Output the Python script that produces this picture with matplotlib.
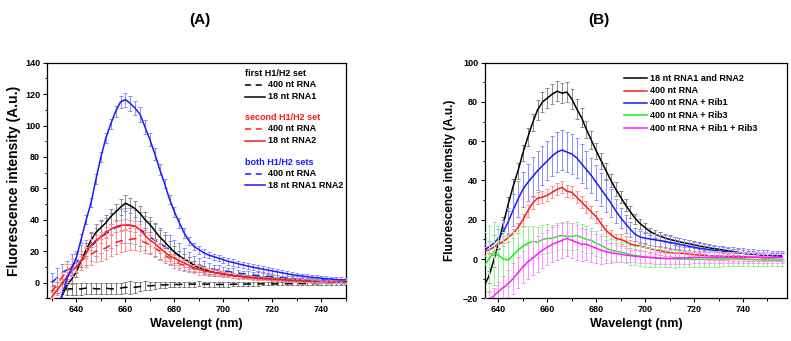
import numpy as np
import matplotlib
matplotlib.use("Agg")
import matplotlib.pyplot as plt
from matplotlib.ticker import MultipleLocator

plt.rcParams['font.family'] = ['Liberation Sans', 'DejaVu Sans']
plt.rcParams['font.weight'] = 'bold'

# ---------------- Panel A data ----------------
wl_a = np.arange(630, 751, 2)

a_black_dash = [-2, -3, -3.5, -4, -4, -4, -4, -3.5, -3.5, -4, -4, -3.5, -4, -4, -3.5, -3, -3, -3, -2.5, -2, -2,
                -1.8, -1.5, -1.5, -1.3, -1.2, -1.2, -1, -1, -1, -0.8, -1, -1, -1.2, -1.2, -1.2, -1.2, -1, -1, -1,
                -0.9, -0.9, -0.9, -0.8, -0.8, -0.8, -0.8, -0.7, -0.7, -0.7, -0.7, -0.6, -0.6, -0.6, -0.6, -0.6,
                -0.5, -0.5, -0.5, -0.5, -0.5]
a_black_dash_err = [3, 3.5, 4, 4, 4, 4, 4, 3.5, 3.5, 3.5, 3.5, 3.5, 3.5, 3.5, 3.5, 3.5, 4, 3.5, 3, 3, 2.5,
                    2, 2, 1.8, 1.8, 1.5, 1.5, 1.5, 1.5, 1.5, 1.5, 1.5, 1.5, 1.5, 1.5, 1.5, 1.5, 1.2, 1.2, 1.2,
                    1, 1, 1, 1, 1, 1, 1, 1, 1, 1, 1, 1, 1, 1, 1, 1, 1, 1, 1, 1, 1]

a_black = [-20, -15, -9, -2, 2, 7, 14, 21, 27, 32, 35, 38, 42, 45, 48, 50.5, 49, 47, 44, 40, 37, 33, 29, 26,
           22.5, 19.5, 17, 15, 13, 11, 9.5, 8.5, 7.5, 6.5, 6, 5.5, 5, 4.5, 4.2, 4, 3.7, 3.4, 3.2, 3, 2.8, 2.6,
           2.4, 2.2, 2, 1.8, 1.7, 1.5, 1.3, 1.2, 1, 0.9, 0.8, 0.7, 0.6, 0.5, 0.4]
a_black_err = [3, 3, 3, 3, 3, 3.5, 4, 4, 4.5, 5, 5, 5, 5, 5, 5, 5, 5, 5, 5, 5, 5, 5, 4.5, 4, 4, 3.5, 3, 3, 3,
               2.5, 2.5, 2, 2, 2, 1.5, 1.5, 1.5, 1.5, 1.2, 1.2, 1, 1, 1, 1, 1, 1, 1, 1, 1, 1, 1, 1, 1, 1, 1, 1,
               1, 1, 1, 1, 1]

a_red_dash = [-6, -1, 3, 7, 10, 12, 14, 16, 18, 20, 21, 22, 24, 25.5, 26.5, 27, 27.5, 28, 27, 25.5, 24, 22, 20,
              17.5, 15.5, 13.5, 12, 11, 10, 9, 8, 7.5, 7, 6.5, 6, 5.5, 5, 4.5, 4, 3.7, 3.4, 3.1, 2.9, 2.7, 2.5,
              2.3, 2.1, 1.9, 1.7, 1.5, 1.4, 1.3, 1.2, 1.1, 1, 0.9, 0.8, 0.7, 0.7, 0.6, 0.6]
a_red_dash_err = [4, 4, 4, 5, 5, 6, 6, 6, 7, 7, 7, 7, 7, 7, 7, 7, 7, 7, 7, 6.5, 6, 6, 5.5, 5, 4.5, 4, 4, 3.5,
                  3.5, 3, 3, 2.5, 2.5, 2, 2, 2, 1.5, 1.5, 1.5, 1.5, 1.2, 1.2, 1.2, 1, 1, 1, 1, 1, 1, 1, 1, 1, 1,
                  1, 1, 1, 1, 1, 1, 1, 1]

a_red = [-9, -5, -1, 3.5, 7, 10, 14, 19, 24, 27, 29, 32, 34, 35.5, 36.5, 36.7, 36.5, 36, 33.5, 30, 27, 25, 22,
         19.5, 17, 15.5, 14, 12.5, 11, 9.5, 8.5, 7.5, 7, 6.5, 6, 5.5, 5, 4.5, 4, 3.7, 3.4, 3.1, 2.8, 2.6, 2.4,
         2.2, 2, 1.8, 1.6, 1.4, 1.3, 1.2, 1.1, 1, 0.9, 0.8, 0.7, 0.6, 0.5, 0.5, 0.4]
a_red_err = [3, 3, 3, 3, 3, 3, 3, 3.5, 3.5, 3.5, 3.5, 3.5, 3.5, 3.5, 3.5, 3.5, 3.5, 3.5, 3.5, 3.5, 3.5, 3, 3, 3,
             3, 3, 2.5, 2.5, 2.5, 2, 2, 2, 2, 1.5, 1.5, 1.5, 1.5, 1.5, 1.2, 1.2, 1, 1, 1, 1, 1, 1, 1, 1, 1, 1,
             1, 1, 1, 1, 1, 1, 1, 1, 1, 1, 1]

a_blue_dash = [0, 3, 6, 8, 11, 13, 16, 19, 23, 26, 29, 31, 33, 35, 36, 36.5, 36.5, 35.5, 34, 31.5, 29, 27, 25,
               23, 21, 19, 17, 15, 13.5, 12, 11, 10, 9, 8.5, 8, 7.5, 7, 6.5, 6, 5.6, 5.2, 4.8, 4.5, 4.2, 3.9,
               3.6, 3.3, 3, 2.8, 2.6, 2.4, 2.2, 2, 1.9, 1.8, 1.7, 1.6, 1.5, 1.4, 1.3, 1.2]
a_blue_dash_err = [6, 6, 6, 6, 7, 7, 8, 8, 9, 9, 10, 10, 11, 11, 11, 11, 11, 11, 11, 11, 10, 10, 10, 9, 9, 8,
                   8, 7, 6, 5, 4.5, 4, 3.5, 3, 3, 2.5, 2.5, 2.5, 2, 2, 2, 2, 2, 2, 1.5, 1.5, 1.5, 1.5, 1.5, 1.5,
                   1.5, 1.5, 1.2, 1.2, 1.2, 1.2, 1.2, 1.2, 1.2, 1.2, 1.2]

a_blue = [-25, -18, -9, 2, 9, 16, 28, 40, 51, 66, 80, 92, 101, 109, 115, 116.5, 114, 111, 107, 99, 91, 82, 72,
          63, 53, 45, 38, 31.5, 26.5, 23, 21, 19, 17.5, 16.5, 15.5, 14.5, 13.5, 12.8, 12, 11.2, 10.5, 9.8, 9.2,
          8.6, 8, 7.4, 6.8, 6.2, 5.6, 5, 4.6, 4.2, 3.8, 3.4, 3.1, 2.8, 2.5, 2.2, 2, 1.8, 1.7]
a_blue_err = [3, 3, 3, 3, 3, 3, 3, 3, 3, 3, 3, 3, 3, 3.5, 4, 4.5, 4.5, 4.5, 4.5, 4.5, 4, 4, 3.5, 3, 3, 3, 3, 3,
              2.5, 2.5, 2.5, 2.5, 2, 2, 2, 2, 2, 2, 2, 2, 2, 2, 2, 2, 2, 2, 2, 2, 1.5, 1.5, 1.5, 1.5, 1.5, 1.5,
              1.5, 1.5, 1.5, 1.5, 1.5, 1.5, 1.5]

# ---------------- Panel B data ----------------
wl_b = np.arange(634, 757, 2)

b_black = [-14, -9, -1, 8, 18, 28, 37, 45, 54, 62, 69.5, 76, 80, 82, 84, 85.5, 84.5, 85, 81.5, 76.5, 72, 66,
           60.5, 55, 50, 45, 40, 35.5, 31.5, 27.5, 24, 20.5, 18, 16, 14, 12.7, 11.7, 10.8, 10, 9.4, 8.8, 8.2,
           7.8, 7.2, 6.7, 6.2, 5.8, 5.3, 5, 4.6, 4.2, 3.8, 3.4, 3, 2.7, 2.5, 2.3, 2.1, 2, 1.8, 1.7, 1.5]
b_black_err = [3, 3, 3, 3, 3.5, 3.5, 4, 4, 4, 4.5, 4.5, 5, 5, 5, 5, 5, 5, 5, 5, 5, 5, 4.5, 4.5, 4, 4, 4, 3.5,
               3.5, 3, 3, 3, 2.5, 2.5, 2.5, 2, 2, 2, 2, 2, 2, 2, 2, 1.8, 1.8, 1.8, 1.8, 1.8, 1.5, 1.5, 1.5, 1.5,
               1.5, 1.5, 1.5, 1.5, 1.5, 1.5, 1.5, 1.5, 1.5, 1.5, 1.5]

b_red = [4, 4.5, 6, 7.5, 9, 11, 13, 16, 20, 24.5, 28.5, 31, 31.5, 32.5, 34, 35.5, 36.5, 34.5, 34, 31.5, 29,
         26.5, 24, 21.5, 18, 14.5, 12.5, 10.5, 10, 9, 7.5, 7, 6.5, 6, 5.3, 4.7, 4.2, 3.6, 3.3, 3.1, 3, 2.8,
         2.5, 2.2, 2, 1.9, 1.7, 1.6, 1.5, 1.4, 1.3, 1.2, 1.1, 1.1, 1, 1, 0.9, 0.9, 0.8, 0.8, 0.8, 0.8]
b_red_err = [2, 2, 2, 2, 2.5, 2.5, 2.5, 2.5, 3, 3, 3, 3, 3, 3, 3, 3, 3, 3, 3, 3, 3, 3, 3, 3, 3, 3, 2.5, 2.5,
             2.5, 2.5, 2, 2, 2, 2, 2, 2, 2, 2, 2, 2, 2, 2, 2, 2, 2, 2, 2, 2, 2, 2, 2, 2, 2, 2, 2, 2, 2, 2, 2,
             2, 2, 2]

b_blue = [4.5, 6, 8, 10.5, 14, 19, 25, 30.5, 35.5, 39, 42, 45, 47.5, 50, 52.5, 54.5, 55.5, 54.5, 53.5, 51.5,
          48.5, 45.5, 42.5, 39, 35.5, 32, 28.5, 24.5, 21, 18, 15, 12.5, 11.2, 10.6, 10.2, 9.8, 9.4, 9, 8.5, 8,
          7.5, 7, 6.5, 6, 5.5, 5.2, 4.8, 4.5, 4.1, 3.9, 3.7, 3.4, 3.1, 2.9, 2.6, 2.5, 2.3, 2.1, 2, 1.8, 1.7,
          1.5]
b_blue_err = [3, 3, 4, 5, 6, 7, 8, 9, 9, 9.5, 10, 10, 10, 10, 10, 10, 10, 10, 10, 10, 10, 9.5, 9, 9, 8.5, 8,
              7, 6, 5, 4.5, 4, 3.5, 3, 3, 3, 3, 3, 3, 3, 3, 3, 3, 3, 2.5, 2.5, 2.5, 2.5, 2.5, 2.5, 2.5, 2.5,
              2.5, 2.5, 2.5, 2.5, 2.5, 2.5, 2.5, 2.5, 2.5, 2.5, 2.5]

b_green = [-4, 0, 3, 2, 0, -0.5, 2, 4.5, 6.5, 8, 9, 8.5, 10, 10.5, 10.5, 11.5, 12, 11.5, 11.5, 12, 11, 10,
           9.5, 8, 7, 5.5, 4.5, 4, 3.5, 3, 2.2, 1.8, 1.4, 1, 0.8, 0.6, 0.4, 0.3, 0.2, 0.1, 0, 0, -0.1, -0.2,
           -0.2, -0.2, -0.1, 0, 0, 0, 0, 0, -0.1, -0.2, -0.3, -0.3, -0.4, -0.4, -0.5, -0.5, -0.5, -0.5]
b_green_err = [18, 17, 16, 15, 14, 13, 12, 11, 10, 9, 8, 8, 7.5, 7.5, 7, 7, 7, 7, 7, 7, 7, 7, 6.5, 6.5, 6, 6,
               5.5, 5.5, 5, 5, 5, 5, 5, 5, 5, 4.5, 4.5, 4.5, 4.5, 4.5, 4, 4, 4, 4, 4, 4, 4, 4, 4, 3.5, 3.5, 3.5,
               3.5, 3.5, 3.5, 3.5, 3, 3, 3, 3, 3, 3]

b_magenta = [-24, -20.5, -19, -16.5, -14.5, -12.5, -10, -7, -4, -1.5, 0.5, 2.5, 4.5, 6, 7.5, 8.5, 9.5, 10.5,
             9.5, 8.5, 7.5, 7.5, 6.5, 5.5, 4.5, 3.8, 3.2, 2.8, 2.4, 2, 1.7, 1.4, 1.2, 1, 0.8, 0.6, 0.4, 0.3,
             0.3, 0.4, 0.5, 0.6, 0.7, 0.8, 0.8, 0.8, 0.8, 0.8, 0.8, 0.8, 0.8, 0.8, 0.8, 0.8, 0.8, 0.8, 0.8,
             0.8, 0.8, 0.8, 0.8, 0.8]
b_magenta_err = [4, 4, 4, 5, 6, 7, 8, 8, 8, 8.5, 8.5, 9, 9, 9, 9, 9, 9, 9, 9, 9, 8.5, 8, 8, 7.5, 7, 6, 5, 4.5,
                 4, 3.5, 3, 3, 3, 3, 3, 3, 3, 3, 3, 3, 3, 3, 3, 3, 3, 3, 3, 3, 3, 3, 3, 3, 3, 3, 3, 3, 3, 3, 3,
                 3, 3, 3]

legend_b = ["18 nt RNA1 and RNA2", "400 nt RNA", "400 nt RNA + Rib1", "400 nt RNA + Rib3",
            "400 nt RNA + Rib1 + Rib3"]

# ---------------- Figure ----------------
W, H = 791, 341
fig = plt.figure(figsize=(W / 100, H / 100), dpi=100)
axA = fig.add_axes([47 / W, 1 - 298.3 / H, 299 / W, 235.6 / H])
axB = fig.add_axes([485 / W, 1 - 298.3 / H, 302 / W, 235.6 / H])


def draw(ax, x, y, e, col, ecol, ls='-', z=2):
    ax.errorbar(x, y, yerr=e, fmt='none', ecolor=ecol, elinewidth=0.7, capsize=1.6, capthick=0.7, zorder=z)
    ax.plot(x, y, color=col, lw=1.1, ls=ls, zorder=z + 0.5)


# Panel A
draw(axA, wl_a, a_black_dash, a_black_dash_err, 'black', '#777777', ls=(0, (5, 4)), z=2)
draw(axA, wl_a, a_blue_dash, a_blue_dash_err, '#1a1aff', '#8c8cff', ls=(0, (5, 4)), z=3)
draw(axA, wl_a, a_red_dash, a_red_dash_err, '#ff1a1a', '#ff8c8c', ls=(0, (5, 4)), z=4)
draw(axA, wl_a, a_black, a_black_err, 'black', '#8a8a8a', z=5)
draw(axA, wl_a, a_red, a_red_err, '#ff1a1a', '#ff8c8c', z=6)
draw(axA, wl_a, a_blue, a_blue_err, '#1a1aff', '#8c8cff', z=7)

axA.set_xlim(628, 750)
axA.set_ylim(-10, 140)
axA.xaxis.set_major_locator(MultipleLocator(20))
axA.xaxis.set_minor_locator(MultipleLocator(10))
axA.yaxis.set_major_locator(MultipleLocator(20))
axA.yaxis.set_minor_locator(MultipleLocator(10))
axA.set_yticks([0, 20, 40, 60, 80, 100, 120, 140])

# Panel B
cols_b = ['black', '#ff1a1a', '#1a1aff', '#1aee1a', '#ff1aff']
ecols_b = ['#8a8a8a', '#ff9090', '#8c8cff', '#90f090', '#ff90ff']
series_b = [b_black, b_red, b_blue, b_green, b_magenta]
errs_b = [b_black_err, b_red_err, b_blue_err, b_green_err, b_magenta_err]
for i, (s, e) in enumerate(zip(series_b, errs_b)):
    draw(axB, wl_b, s, e, cols_b[i], ecols_b[i], z=2 + i)

axB.set_xlim(634.5, 758)
axB.set_ylim(-20, 100)
axB.xaxis.set_major_locator(MultipleLocator(20))
axB.xaxis.set_minor_locator(MultipleLocator(10))
axB.yaxis.set_major_locator(MultipleLocator(20))
axB.yaxis.set_minor_locator(MultipleLocator(10))

for ax in (axA, axB):
    ax.tick_params(which='both', direction='out', top=False, right=False, labelsize=6.5, pad=2)
    ax.tick_params(which='major', length=3, width=0.8)
    ax.tick_params(which='minor', length=1.8, width=0.7)
    for lab in ax.get_xticklabels() + ax.get_yticklabels():
        lab.set_fontweight('bold')
    for sp in ax.spines.values():
        sp.set_linewidth(0.9)
    ax.set_xlabel('Wavelengt (nm)', fontsize=9, fontweight='bold', labelpad=3)

axA.set_ylabel('Fluorescence intensity (A.u.)', fontsize=10, fontweight='bold', labelpad=3)
axB.set_ylabel('Fluorescence intensity (A.u.)', fontsize=8.5, fontweight='bold', labelpad=5)

# Legend A (manual, grouped)
tA = axA.transAxes
groups = [("first H1/H2 set", 'black', ["400 nt RNA", "18 nt RNA1"]),
          ("second H1/H2 set", '#ff1a1a', ["400 nt RNA", "18 nt RNA2"]),
          ("both H1/H2 sets", '#1a1aff', ["400 nt RNA", "18 nt RNA1 RNA2"])]
x0 = (245 - 47) / 299.0
x1 = (265 - 47) / 299.0
xt = (268 - 47) / 299.0
row_y = [[73.3, 84.5, 96.7], [117.7, 129, 140.5], [162.7, 173.7, 185.3]]


def fy(py):
    return (298.3 - py) / 235.6


for (hdr, col, items), ys in zip(groups, row_y):
    axA.text(x0, fy(ys[0]), hdr, transform=tA, color=col, fontsize=6.5, fontweight='bold', va='center', ha='left')
    for j, (lbl, py) in enumerate(zip(items, ys[1:])):
        ls = (0, (4, 3)) if j == 0 else '-'
        axA.plot([x0, x1], [fy(py), fy(py)], transform=tA, color=col, lw=1.1, ls=ls, clip_on=False)
        axA.text(xt, fy(py), lbl, transform=tA, color='black', fontsize=6.5, fontweight='bold', va='center', ha='left')

# Legend B
tB = axB.transAxes
rowsB = [78.3, 90.7, 102.9, 115.3, 128.3]
bx0 = (624 - 485) / 302.0
bx1 = (647 - 485) / 302.0
bxt = (650 - 485) / 302.0
for lbl, col, py in zip(legend_b, cols_b, rowsB):
    axB.plot([bx0, bx1], [fy(py), fy(py)], transform=tB, color=col, lw=1.1, clip_on=False)
    axB.text(bxt, fy(py), lbl, transform=tB, color='black', fontsize=6.5, fontweight='bold', va='center', ha='left')

fig.text(200 / W, 1 - 20 / H, '(A)', fontsize=11, fontweight='bold', ha='center', va='center')
fig.text(599 / W, 1 - 20 / H, '(B)', fontsize=11, fontweight='bold', ha='center', va='center')

fig.savefig('out.png', dpi=100)
